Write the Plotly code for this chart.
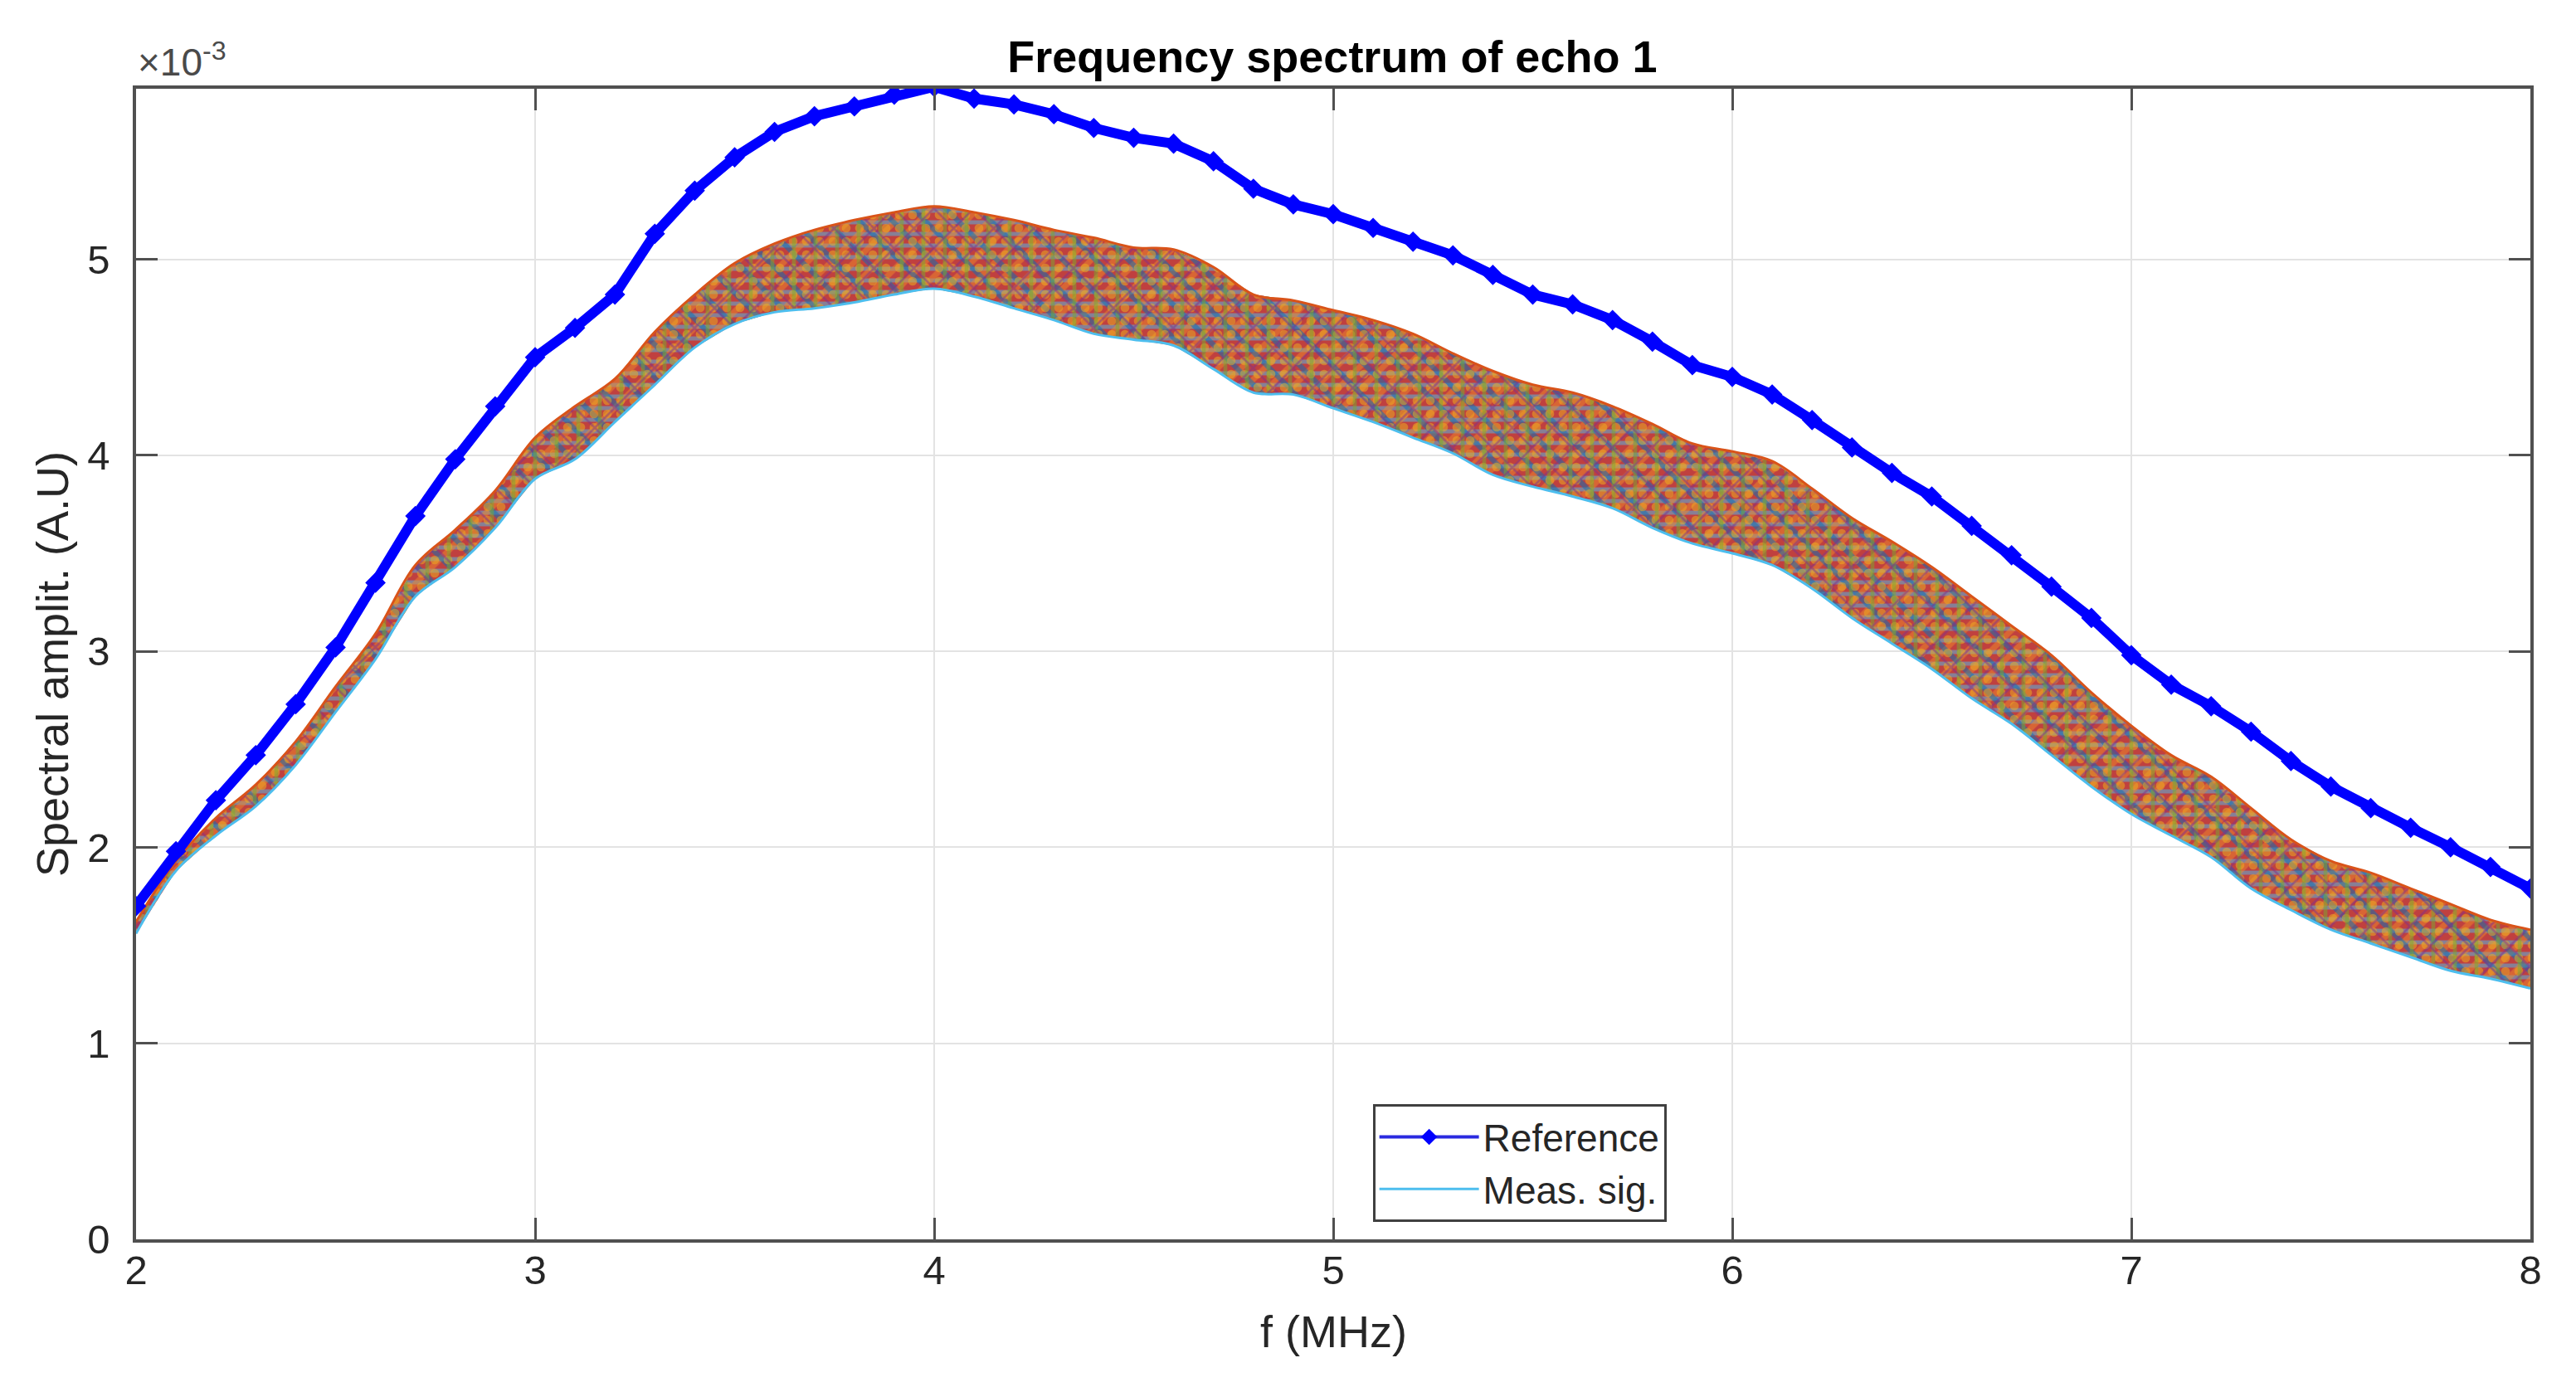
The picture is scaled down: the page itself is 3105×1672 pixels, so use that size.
import plotly.graph_objects as go

# Frequency axis (MHz)
freq = [2.0, 2.1, 2.2, 2.3, 2.4, 2.5, 2.6, 2.7, 2.8, 2.9,
        3.0, 3.1, 3.2, 3.3, 3.4, 3.5, 3.6, 3.7, 3.8, 3.9,
        4.0, 4.1, 4.2, 4.3, 4.4, 4.5, 4.6, 4.7, 4.8, 4.9,
        5.0, 5.1, 5.2, 5.3, 5.4, 5.5, 5.6, 5.7, 5.8, 5.9,
        6.0, 6.1, 6.2, 6.3, 6.4, 6.5, 6.6, 6.7, 6.8, 6.9,
        7.0, 7.1, 7.2, 7.3, 7.4, 7.5, 7.6, 7.7, 7.8, 7.9, 8.0]

# Reference spectrum (x 10^-3 A.U)
reference = [1.70, 1.98, 2.24, 2.47, 2.73, 3.02, 3.35, 3.69, 3.98, 4.25,
             4.50, 4.65, 4.82, 5.13, 5.35, 5.52, 5.65, 5.73, 5.78, 5.84,
             5.88, 5.82, 5.79, 5.74, 5.67, 5.62, 5.59, 5.50, 5.36, 5.28,
             5.23, 5.16, 5.09, 5.02, 4.92, 4.82, 4.77, 4.69, 4.58, 4.46,
             4.40, 4.31, 4.18, 4.04, 3.91, 3.79, 3.64, 3.49, 3.33, 3.17,
             2.98, 2.83, 2.72, 2.59, 2.44, 2.31, 2.20, 2.10, 2.00, 1.90, 1.79]

# Measured signals: upper and lower envelope of the bundle (x 10^-3 A.U)
meas_upper = [1.62, 1.93, 2.15, 2.32, 2.54, 2.82, 3.09, 3.44, 3.62, 3.82,
              4.09, 4.25, 4.39, 4.63, 4.82, 4.98, 5.08, 5.15, 5.20, 5.24,
              5.27, 5.24, 5.20, 5.15, 5.11, 5.06, 5.05, 4.96, 4.82, 4.79,
              4.74, 4.69, 4.62, 4.52, 4.43, 4.36, 4.32, 4.25, 4.16, 4.06,
              4.02, 3.97, 3.83, 3.68, 3.56, 3.43, 3.28, 3.13, 2.98, 2.79,
              2.62, 2.47, 2.36, 2.20, 2.04, 1.93, 1.87, 1.79, 1.71, 1.63, 1.58]
meas_lower = [1.56, 1.88, 2.06, 2.21, 2.42, 2.69, 2.96, 3.28, 3.43, 3.63,
              3.88, 3.98, 4.17, 4.36, 4.55, 4.67, 4.73, 4.75, 4.78, 4.82,
              4.85, 4.81, 4.75, 4.69, 4.62, 4.59, 4.56, 4.44, 4.32, 4.31,
              4.24, 4.17, 4.09, 4.01, 3.90, 3.84, 3.79, 3.73, 3.63, 3.55,
              3.50, 3.44, 3.32, 3.17, 3.04, 2.91, 2.76, 2.63, 2.47, 2.31,
              2.17, 2.06, 1.95, 1.79, 1.68, 1.58, 1.51, 1.44, 1.37, 1.33, 1.28]

y_ticks = [0, 1, 2, 3, 4, 5]
x_ticks = [2, 3, 4, 5, 6, 7, 8]

FONT = "Liberation Sans, Arial, Helvetica, sans-serif"
TXT = "#262626"
AX = "#505050"
CLEAR = "rgba(0,0,0,0)"

# texture layers for the bundle of measured signals (MATLAB default colour order)
layers = [
    dict(shape="-", fg="#4DBEEE", bg="#C0403F", size=14, sol=0.35),
    dict(shape="/", fg="#F08A2A", bg=CLEAR, size=20, sol=0.35),
    dict(shape="\\", fg="#0072BD", bg=CLEAR, size=28, sol=0.22),
    dict(shape=".", fg="#EDB120", bg=CLEAR, size=16, sol=0.35),
    dict(shape="|", fg="#77AC30", bg=CLEAR, size=26, sol=0.18),
    dict(shape="x", fg="#7E2F8E", bg=CLEAR, size=34, sol=0.15),
]

fig = go.Figure()
for L in layers:
    fig.add_trace(go.Scatter(x=freq, y=meas_lower, mode="lines",
                             line=dict(width=0, color=CLEAR),
                             showlegend=False, hoverinfo="skip"))
    fig.add_trace(go.Scatter(x=freq, y=meas_upper, mode="lines", fill="tonexty",
                             line=dict(width=0, color=CLEAR),
                             fillcolor=L["bg"],
                             fillpattern=dict(shape=L["shape"], fgcolor=L["fg"],
                                              bgcolor=L["bg"], size=L["size"],
                                              solidity=L["sol"]),
                             showlegend=False, hoverinfo="skip"))

# edges of the bundle
fig.add_trace(go.Scatter(x=freq, y=meas_upper, mode="lines",
                         line=dict(color="#D95319", width=3, shape="spline"),
                         showlegend=False, hoverinfo="skip"))
fig.add_trace(go.Scatter(x=freq, y=meas_lower, mode="lines",
                         line=dict(color="#4DBEEE", width=3, shape="spline"),
                         name="Meas. sig."))

fig.add_trace(go.Scatter(x=freq, y=reference, mode="lines+markers",
                         line=dict(color="#0000FF", width=12),
                         marker=dict(symbol="diamond", size=19, color="#0000FF"),
                         name="Reference", showlegend=False))
# legend sample for the reference (thin line with one diamond, as in the original)
fig.add_trace(go.Scatter(x=[None], y=[None], mode="lines+markers",
                         line=dict(color="#2a2ae0", width=4),
                         marker=dict(symbol="diamond", size=15, color="#0000FF"),
                         name="Reference"))

axis_common = dict(
    showline=True, linecolor=AX, linewidth=3.5, mirror="allticks",
    ticks="inside", ticklen=26, tickwidth=2.5, tickcolor=AX,
    showgrid=True, gridcolor="#e3e3e3", gridwidth=2,
    zeroline=False,
    tickfont=dict(family=FONT, size=49, color=TXT),
)

fig.update_layout(
    width=3105, height=1672,
    margin=dict(l=156, r=63, t=99, b=186),
    paper_bgcolor="white", plot_bgcolor="white",
    title=dict(text="<b>Frequency spectrum of echo 1</b>", x=0.5146, xanchor="center",
               y=1 - 60 / 1672, yanchor="middle",
               font=dict(family=FONT, size=54, color="#000000")),
    xaxis=dict(range=[2, 8], tickvals=x_ticks, ticktext=[str(v) for v in x_ticks],
               ticklabelstandoff=-9, **axis_common),
    yaxis=dict(range=[0, 5.87], tickvals=y_ticks, ticktext=[str(v) for v in y_ticks],
               title=dict(text="Spectral amplit. (A.U)", font=dict(family=FONT, size=54, color=TXT), standoff=6),
               ticklabelstandoff=18, **axis_common),
    legend=dict(x=0.5165, y=0.1175, xanchor="left", yanchor="top",
                traceorder="reversed",
                bgcolor="white", bordercolor="#404040", borderwidth=3,
                font=dict(family=FONT, size=46, color=TXT),
                itemwidth=120, tracegroupgap=0),
    showlegend=True,
)

fig.add_annotation(xref="paper", yref="paper", x=0.5, y=-0.080, xanchor="center", yanchor="middle",
                   showarrow=False, text="f (MHz)",
                   font=dict(family=FONT, size=54, color=TXT))

fig.add_annotation(xref="paper", yref="paper", x=0.0, y=1.0, xanchor="left", yanchor="bottom",
                   yshift=4, showarrow=False,
                   text="×10<sup>-3</sup>", font=dict(family=FONT, size=46, color="#4a4a4a"))

fig.write_html("out.html")
